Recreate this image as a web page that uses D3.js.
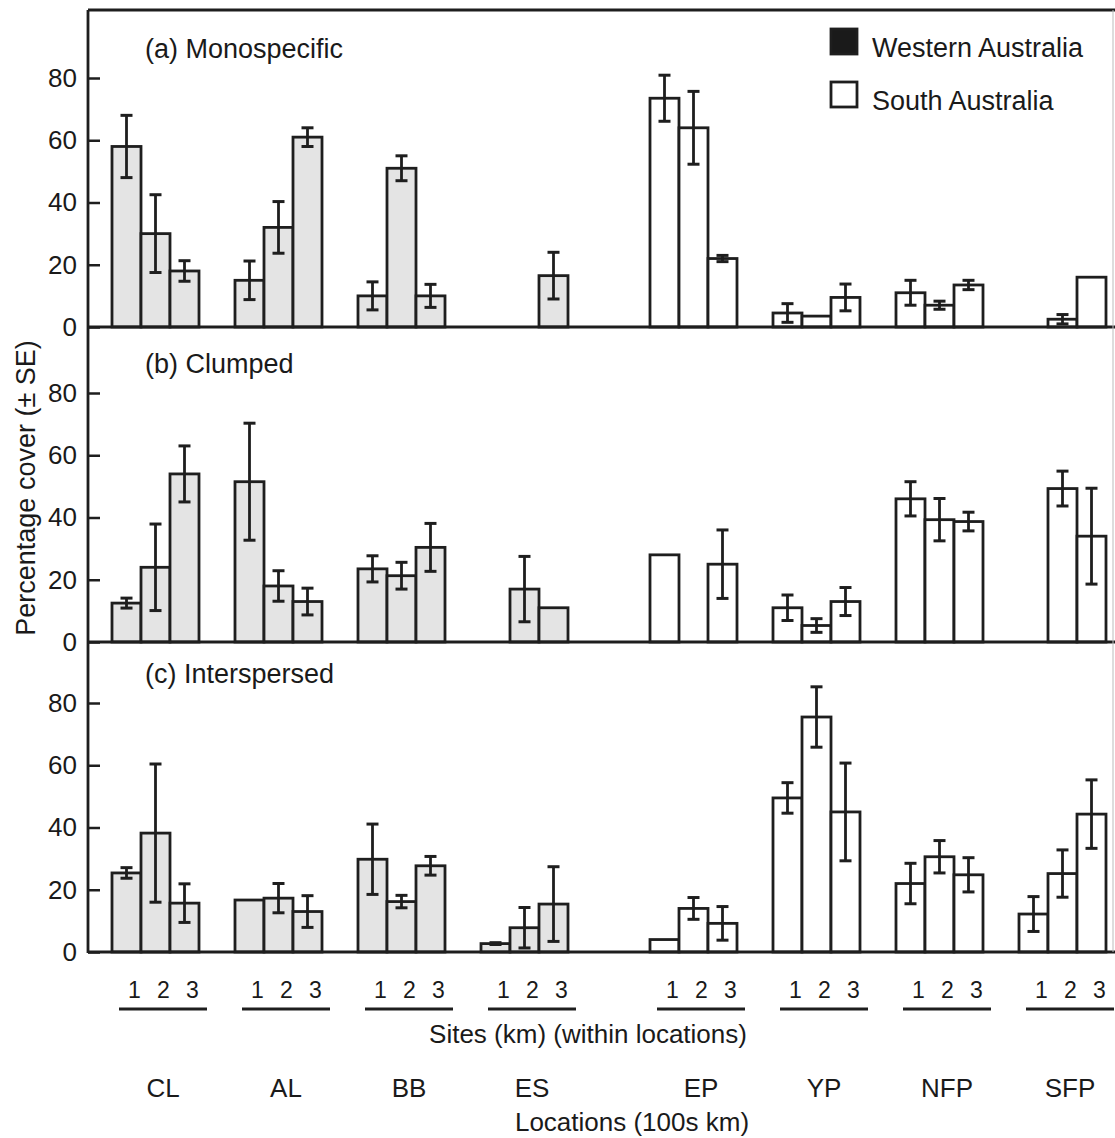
<!DOCTYPE html>
<meta charset="utf-8">
<style>
  body { margin: 0; background: #fff; }
  text { font-family: "Liberation Sans", Arial, sans-serif; fill: #1a1a1a; }
</style>
<body>
<div id="chart"></div>
<script src="https://d3js.org/d3.v7.min.js"></script>
<script>
  // locations (100s km) and the state each one belongs to
  const locations = ["CL", "AL", "BB", "ES", "EP", "YP", "NFP", "SFP"];
  const states = ["WA", "WA", "WA", "WA", "SA", "SA", "SA", "SA"];
  const sites = [1, 2, 3];
  const yTicks = [0, 20, 40, 60, 80];

  // percentage cover per location, sites 1..3 (null = no bar)
  const monoMean = [[58, 30, 18], [15, 32, 61], [10, 51, 10], [null, null, 16.5],
    [73.5, 64, 22], [4.5, 3.5, 9.5], [11, 7, 13.5], [null, 2.5, 16]];
  const monoSE = [[10, 12.5, 3.3], [6.2, 8.3, 3], [4.5, 4, 3.7], [null, null, 7.5],
    [7.4, 11.7, 1], [3, 0, 4.3], [4, 1.3, 1.5], [null, 1.5, 0]];

  const clumpMean = [[12.5, 24, 54], [51.5, 18, 13], [23.5, 21.3, 30.4], [null, 17, 11],
    [28, null, 25], [11, 5.3, 13], [46, 39.3, 38.7], [null, 49.3, 34]];
  const clumpSE = [[1.6, 13.9, 9], [18.8, 4.9, 4.3], [4.2, 4.3, 7.7], [null, 10.5, 0],
    [0, null, 11], [4.1, 2.2, 4.5], [5.5, 6.8, 3], [null, 5.6, 15.4]];

  const interMean = [[25.4, 38.2, 15.7], [16.7, 17.3, 13], [29.8, 16.2, 27.7], [2.7, 7.8, 15.4],
    [4, 14, 9.2], [49.5, 75.5, 45], [22, 30.6, 24.8], [12.2, 25.2, 44.3]];
  const interSE = [[1.7, 22.2, 6.2], [0, 4.7, 5.1], [11.3, 2, 3], [0.3, 6.5, 12],
    [0, 3.5, 5.4], [4.9, 9.7, 15.7], [6.5, 5.2, 5.5], [5.6, 7.6, 11]];

  const panelNames = ["(a) Monospecific", "(b) Clumped", "(c) Interspersed"];
  const legendLabels = ["Western Australia", "South Australia"];

  const panels = [
    {name: panelNames[0], mean: monoMean, se: monoSE, base: 327},
    {name: panelNames[1], mean: clumpMean, se: clumpSE, base: 642},
    {name: panelNames[2], mean: interMean, se: interSE, base: 952}
  ];

  const width = 1115, height = 1138;
  const axisX = 88, frameTop = 10, rightX = 1113;
  const stateGap = 46;
  const waFill = "#e4e4e4", ink = "#1e1e1e";

  const svg = d3.select("#chart").append("svg")
    .attr("width", width)
    .attr("height", height);

  svg.append("rect").attr("width", width).attr("height", height).attr("fill", "#fff");

  // x: location slot + extra gap between the two states, sites banded within
  const xLoc = d3.scaleLinear().domain([0, 7]).range([112, 973]);
  const locX = (i) => xLoc(i) + (states[i] === "SA" ? stateGap : 0);
  const xSite = d3.scaleBand().domain(sites).range([0, 87]);

  panels.forEach((p) => {
    const y = d3.scaleLinear().domain([0, 80]).range([p.base, p.base - 249]);
    const g = svg.append("g");

    // axis ticks pointing inward
    g.append("g")
      .attr("transform", `translate(${axisX},0)`)
      .call(d3.axisLeft(y).tickValues(yTicks).tickSizeInner(-12).tickSizeOuter(0).tickPadding(11))
      .call((a) => a.select(".domain").remove())
      .call((a) => a.selectAll("line").attr("stroke", ink).attr("stroke-width", 2.5))
      .call((a) => a.selectAll("text")
        .attr("font-size", 26)
        .attr("font-family", "Liberation Sans, Arial, sans-serif")
        .attr("fill", "#1a1a1a"));

    const bars = [];
    p.mean.forEach((row, li) => {
      row.forEach((v, si) => {
        if (v === null) return;
        bars.push({loc: li, site: sites[si], v: v, se: p.se[li][si]});
      });
    });

    g.selectAll("rect.bar").data(bars).join("rect")
      .attr("class", "bar")
      .attr("x", (d) => locX(d.loc) + xSite(d.site))
      .attr("y", (d) => y(d.v))
      .attr("width", xSite.bandwidth())
      .attr("height", (d) => y(0) - y(d.v))
      .attr("fill", (d) => states[d.loc] === "WA" ? waFill : "#fff")
      .attr("stroke", ink)
      .attr("stroke-width", 2.8);

    const eb = bars.filter((d) => d.se > 0);
    const cx = (d) => locX(d.loc) + xSite(d.site) + xSite.bandwidth() / 2;
    g.selectAll("line.err").data(eb).join("line")
      .attr("class", "err")
      .attr("x1", cx).attr("x2", cx)
      .attr("y1", (d) => y(d.v + d.se)).attr("y2", (d) => y(d.v - d.se))
      .attr("stroke", ink).attr("stroke-width", 2.8);
    ["hi", "lo"].forEach((k) => {
      g.selectAll("line.cap-" + k).data(eb).join("line")
        .attr("class", "cap-" + k)
        .attr("x1", (d) => cx(d) - 6).attr("x2", (d) => cx(d) + 6)
        .attr("y1", (d) => y(k === "hi" ? d.v + d.se : d.v - d.se))
        .attr("y2", (d) => y(k === "hi" ? d.v + d.se : d.v - d.se))
        .attr("stroke", ink).attr("stroke-width", 3);
    });

    // panel baseline
    g.append("line")
      .attr("x1", axisX).attr("x2", width)
      .attr("y1", y(0)).attr("y2", y(0))
      .attr("stroke", ink).attr("stroke-width", 2.8);

    g.append("text")
      .attr("x", 145)
      .attr("y", y(80) - 20)
      .attr("font-size", 27)
      .text(p.name);
  });

  // frame
  svg.append("line").attr("x1", axisX).attr("x2", width).attr("y1", frameTop).attr("y2", frameTop)
    .attr("stroke", ink).attr("stroke-width", 2.8);
  svg.append("line").attr("x1", axisX).attr("x2", axisX).attr("y1", frameTop).attr("y2", 953)
    .attr("stroke", ink).attr("stroke-width", 2.8);
  svg.append("line").attr("x1", rightX).attr("x2", rightX).attr("y1", frameTop).attr("y2", 952)
    .attr("stroke", "#bbb").attr("stroke-width", 1);

  // legend
  const legend = svg.append("g").attr("transform", "translate(830,28)");
  legendLabels.forEach((lab, i) => {
    legend.append("rect")
      .attr("x", 1).attr("y", i * 53 + 1)
      .attr("width", 26).attr("height", 25)
      .attr("fill", i === 0 ? "#1a1a1a" : "#fff")
      .attr("stroke", ink).attr("stroke-width", 2.8);
    legend.append("text")
      .attr("x", 42).attr("y", i * 53 + 29)
      .attr("font-size", 27)
      .text(lab);
  });

  // y axis title
  svg.append("text")
    .attr("transform", "translate(35,488) rotate(-90)")
    .attr("text-anchor", "middle")
    .attr("font-size", 27)
    .text("Percentage cover (± SE)");

  // site numbers and underlines
  const below = svg.append("g");
  locations.forEach((loc, i) => {
    sites.forEach((s) => {
      below.append("text")
        .attr("x", locX(i) + xSite(s) + xSite.bandwidth() / 2 + 8)
        .attr("y", 998)
        .attr("text-anchor", "middle")
        .attr("font-size", 23)
        .text(s);
    });
    below.append("line")
      .attr("x1", locX(i) + 7).attr("x2", locX(i) + 87 + 8)
      .attr("y1", 1009).attr("y2", 1009)
      .attr("stroke", ink).attr("stroke-width", 3);
    below.append("text")
      .attr("x", locX(i) + 51)
      .attr("y", 1097)
      .attr("text-anchor", "middle")
      .attr("font-size", 26)
      .text(loc);
  });

  below.append("text")
    .attr("x", 588).attr("y", 1043)
    .attr("text-anchor", "middle")
    .attr("font-size", 26)
    .text("Sites (km) (within locations)");
  below.append("text")
    .attr("x", 632).attr("y", 1131)
    .attr("text-anchor", "middle")
    .attr("font-size", 26)
    .text("Locations (100s km)");
</script>
